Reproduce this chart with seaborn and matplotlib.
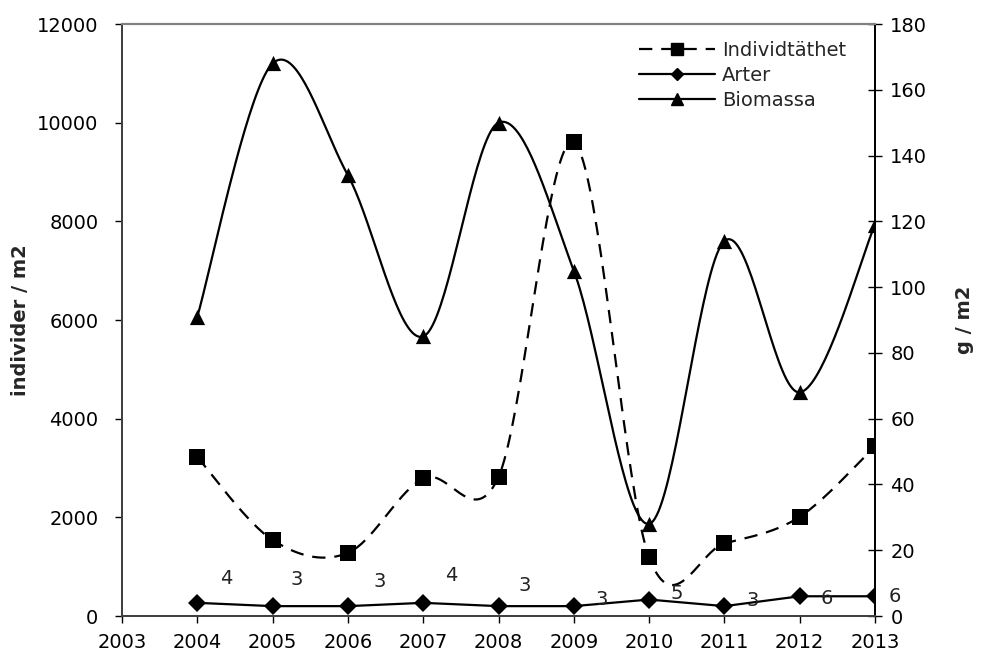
import numpy as np
import pandas as pd
import matplotlib
matplotlib.use("Agg")
import matplotlib.pyplot as plt
import seaborn as sns
from matplotlib.lines import Line2D

# ---- data ----
years = [2004, 2005, 2006, 2007, 2008, 2009, 2010, 2011, 2012, 2013]
individtathet = [3220, 1540, 1280, 2790, 2820, 9600, 1190, 1470, 2010, 3440]
arter = [4, 3, 3, 4, 3, 3, 5, 3, 6, 6]
biomassa = [91, 168, 134, 85, 150, 105, 28, 114, 68, 119]
left_ticks = [0, 2000, 4000, 6000, 8000, 10000, 12000]
right_ticks = [0, 20, 40, 60, 80, 100, 120, 140, 160, 180]
x_ticks = [2003, 2004, 2005, 2006, 2007, 2008, 2009, 2010, 2011, 2012, 2013]

# label offsets (pixels) for the Arter data labels
label_dx = [29, 24, 32, 28, 26, 28, 28, 28, 27, 20]
label_dy = [24, 27, 25, 27, 21, 7, 6, 6, -2, 0]

sns.set_theme(style="white")
plt.rcParams['font.family'] = ['DejaVu Sans']
FS = 14


def smooth(x, y, n=40):
    """Excel-style smoothed line (Catmull-Rom Bezier) through the points."""
    x = np.asarray(x, float)
    y = np.asarray(y, float)
    P = np.column_stack([x, y])
    out = []
    m = len(P)
    for i in range(m - 1):
        p0 = P[i - 1] if i > 0 else P[i]
        p1 = P[i]
        p2 = P[i + 1]
        p3 = P[i + 2] if i + 2 < m else P[i + 1]
        c1 = p1 + (p2 - p0) / 6.0
        c2 = p2 - (p3 - p1) / 6.0
        t = np.linspace(0, 1, n)[:, None]
        seg = ((1 - t) ** 3) * p1 + 3 * ((1 - t) ** 2) * t * c1 + 3 * (1 - t) * t ** 2 * c2 + t ** 3 * p2
        if i > 0:
            seg = seg[1:]
        out.append(seg)
    out = np.vstack(out)
    return out[:, 0], out[:, 1]


fig = plt.figure(figsize=(9.85, 6.54), dpi=100)
ax = fig.add_axes([122 / 985, 1 - 616 / 654, (875 - 122) / 985, (616 - 24) / 654])
ax2 = ax.twinx()

df = pd.DataFrame({"year": years, "ind": individtathet, "arter": arter, "bio": biomassa})

LW = 1.6
DASH = (0, (6, 4))

# Individtäthet (left axis), smoothed dashed line
sx, sy = smooth(years, individtathet)
sns.lineplot(x=sx, y=sy, ax=ax, color="black", lw=LW, sort=False, estimator=None)
ax.lines[-1].set_linestyle(DASH)
sns.scatterplot(data=df, x="year", y="ind", ax=ax, marker="s", s=120, color="black",
                edgecolor="black", linewidth=0, zorder=5)

# Biomassa (right axis), smoothed solid line
bx, by = smooth(years, biomassa)
sns.lineplot(x=bx, y=by, ax=ax2, color="black", lw=LW, sort=False, estimator=None)
sns.scatterplot(data=df, x="year", y="bio", ax=ax2, marker="^", s=120, color="black",
                edgecolor="black", linewidth=0, zorder=5)

# Arter (right axis), straight line
sns.lineplot(data=df, x="year", y="arter", ax=ax2, color="black", lw=LW,
             marker="D", markersize=9, markeredgewidth=0, estimator=None)

for xv, yv, dx, dy in zip(years, arter, label_dx, label_dy):
    ax2.annotate(str(yv), (xv, yv), xytext=(dx * 0.72, dy * 0.72), textcoords="offset points",
                 ha="center", va="center", fontsize=FS, color="#222222")

# axes
ax.set_xlim(2003, 2013)
ax.set_ylim(0, 12000)
ax2.set_ylim(0, 180)
ax.set_xticks(x_ticks)
ax.set_xticklabels([str(v) for v in x_ticks])
ax.set_yticks(left_ticks)
ax.set_yticklabels([str(v) for v in left_ticks])
ax2.set_yticks(right_ticks)
ax2.set_yticklabels([str(v) for v in right_ticks])

ax.set_xlabel("")
ax.set_ylabel("individer / m2", fontsize=FS, fontweight="bold", labelpad=5)
ax2.set_ylabel("g / m2", fontsize=FS, fontweight="bold", labelpad=20)

ax.tick_params(axis="x", direction="out", length=5, width=1, labelsize=FS, colors="black",
               bottom=True, pad=7)
ax.tick_params(axis="y", direction="out", length=5, width=1, labelsize=FS, colors="black",
               left=True, pad=12)
ax2.tick_params(axis="y", direction="inout", length=10, width=1, labelsize=FS, colors="black",
                right=True, pad=6)

for a in (ax, ax2):
    a.spines["top"].set_color("#808080")
    a.spines["top"].set_linewidth(1.5)
    a.spines["left"].set_color("#404040")
    a.spines["left"].set_linewidth(1.3)
    a.spines["bottom"].set_color("#404040")
    a.spines["bottom"].set_linewidth(1.3)
    a.spines["right"].set_color("black")
    a.spines["right"].set_linewidth(1.3)
    a.grid(False)

handles = [
    Line2D([], [], color="black", lw=LW, linestyle=DASH, marker="s", markersize=9),
    Line2D([], [], color="black", lw=LW, marker="D", markersize=6),
    Line2D([], [], color="black", lw=LW, marker="^", markersize=8),
]
ax2.legend(handles, ["Individtäthet", "Arter", "Biomassa"], loc="upper right",
           bbox_to_anchor=(0.972, 0.984), frameon=False, fontsize=FS, handlelength=3.9,
           handletextpad=0.35, labelspacing=0.3, borderaxespad=0.0)

fig.savefig("out.png", dpi=100)
